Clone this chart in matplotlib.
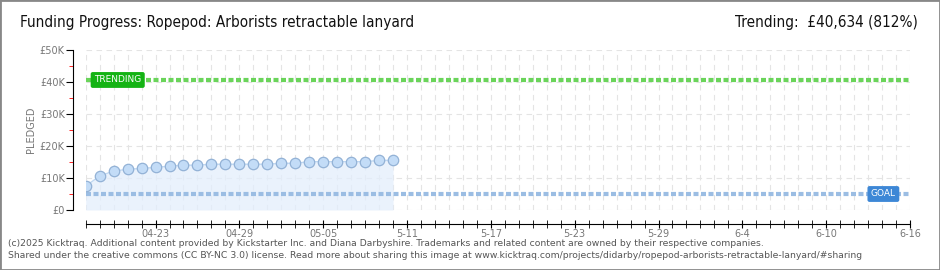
import matplotlib.pyplot as plt
import matplotlib.patches as patches
import numpy as np

# Daily pledged totals (GBP) from 04-18 onward
pledged = [7500, 10600, 12200, 12700, 13000, 13300, 13700, 14000, 14000, 14300,
           14300, 14300, 14300, 14300, 14600, 14600, 15100, 15100, 15100, 15100,
           15100, 15500, 15500]
goal = 5000
trending = 40634
num_days = 60  # 04-18 .. 06-16

tick_days = [5, 11, 17, 23, 29, 35, 41, 47, 53, 59]
tick_labels = ['04-23', '04-29', '05-05', '5-11', '5-17', '5-23', '5-29', '6-4', '6-10', '6-16']
y_ticks = [0, 10000, 20000, 30000, 40000, 50000]
y_labels = ['£0', '£10K', '£20K', '£30K', '£40K', '£50K']

plt.rcParams['font.family'] = ['DejaVu Sans']

fig = plt.figure(figsize=(9.4, 2.7), dpi=100)
ax = fig.add_axes([85.7 / 940, 1 - 210 / 270, (910 - 85.7) / 940, 160 / 270])

days = np.arange(len(pledged))

# grid
for d in range(num_days):
    ax.axvline(d, color='#e4e4e4', lw=0.8, ls=(0, (5, 4)), zorder=0)
for v in y_ticks:
    ax.axhline(v, color='#e4e4e4', lw=0.8, ls=(0, (5, 4)), zorder=0)

ax.fill_between(days, 0, pledged, color='#e3eefc', alpha=0.75, lw=0, zorder=1)
ax.plot(days, pledged, color='#c0d8f2', lw=1, zorder=3)
ax.plot(days, pledged, 'o', ms=7.5, mfc='#c3dcf7', mec='#93b2d6', mew=0.9, zorder=4)

ax.axhline(goal, color='#9bbde3', lw=3, ls=(0, (1.2, 0.6)), zorder=2)
ax.axhline(trending, color='#6ad45a', lw=3, ls=(0, (1.2, 0.6)), zorder=2)

ax.text(0.6, trending, 'TRENDING', color='white', fontsize=6.5,
        va='center', ha='left', zorder=5,
        bbox=dict(boxstyle='round,pad=0.3,rounding_size=0.15', fc='#14b314', ec='#14b314'))
ax.text(56.2, goal, 'GOAL', color='white', fontsize=6.5,
        va='center', ha='left', zorder=5,
        bbox=dict(boxstyle='round,pad=0.3,rounding_size=0.15', fc='#3d87d6', ec='#3d87d6'))

ax.set_xlim(0, num_days - 1)
ax.set_ylim(0, 50000)

for s in ['top', 'right']:
    ax.spines[s].set_visible(False)
ax.spines['left'].set_position(('outward', 9))
ax.spines['bottom'].set_position(('outward', 10))

ax.set_yticks(y_ticks)
ax.set_yticklabels(y_labels)
ax.set_yticks([5000, 15000, 25000, 35000, 45000], minor=True)
ax.tick_params(axis='y', which='major', length=5, color='black', labelsize=7,
               labelcolor='#777777', pad=1)
ax.tick_params(axis='y', which='minor', length=3, color='red')

ax.set_xticks(range(num_days), minor=True)
ax.set_xticks(tick_days)
ax.set_xticklabels(tick_labels)
ax.tick_params(axis='x', which='both', direction='inout', length=6, color='black',
               labelsize=7, labelcolor='#777777', pad=1)

ax.set_ylabel('PLEDGED', fontsize=7, color='#777777', labelpad=3)

fig.text(20 / 940, 1 - 22 / 270, 'Funding Progress: Ropepod: Arborists retractable lanyard',
         fontsize=11, color='#111111', va='center', ha='left', fontstretch='condensed')
fig.text(918 / 940, 1 - 22 / 270, 'Trending:  £40,634 (812%)',
         fontsize=11, color='#111111', va='center', ha='right', fontstretch='condensed')

fig.text(8 / 940, 1 - 243 / 270,
         '(c)2025 Kicktraq. Additional content provided by Kickstarter Inc. and Diana Darbyshire. '
         'Trademarks and related content are owned by their respective companies.',
         fontsize=6.65, color='#555555', va='center', ha='left')
fig.text(8 / 940, 1 - 256 / 270,
         'Shared under the creative commons (CC BY-NC 3.0) license. Read more about sharing this image at '
         'www.kicktraq.com/projects/didarby/ropepod-arborists-retractable-lanyard/#sharing',
         fontsize=6.65, color='#555555', va='center', ha='left')

fig.patches.append(patches.Rectangle((0, 0), 1, 1, transform=fig.transFigure,
                                     fill=False, ec='#888888', lw=2))

fig.savefig('out.png', dpi=100)
